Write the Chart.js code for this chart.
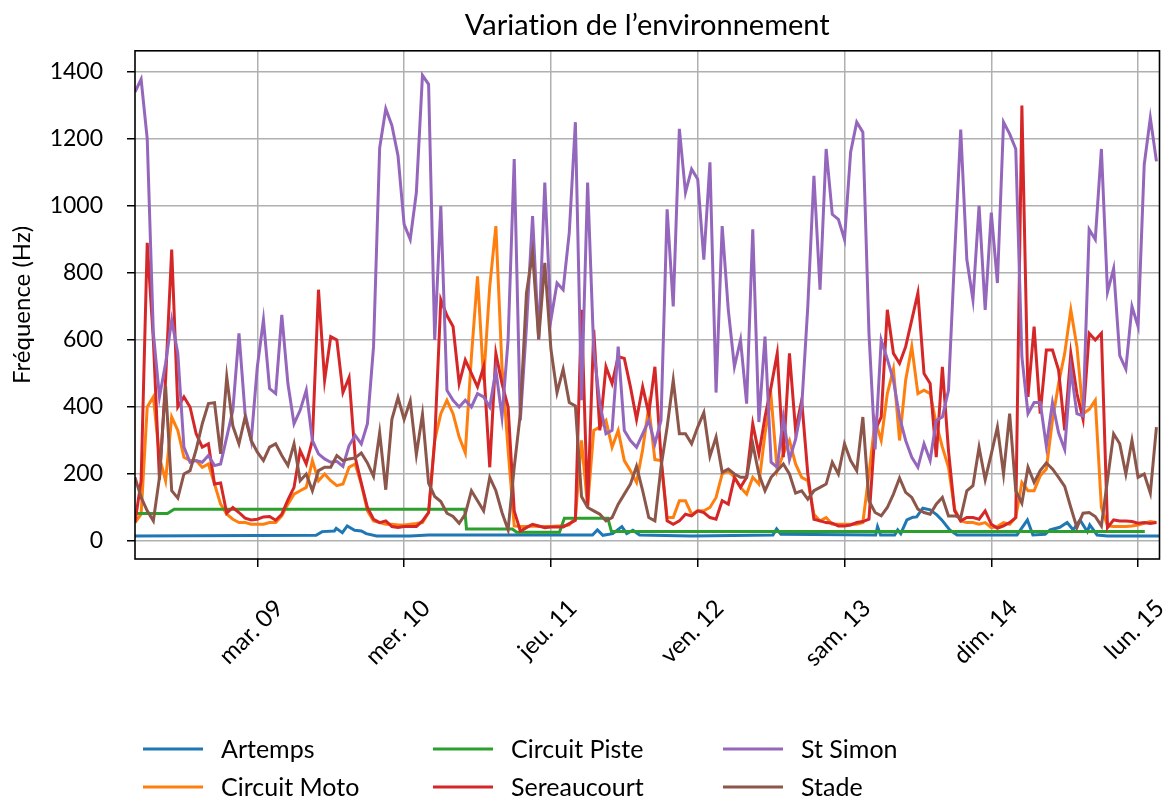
<!DOCTYPE html>
<html lang="fr">
<head>
  <meta charset="UTF-8">
  <title>Variation de l'environnement</title>
  <style>
    html, body { margin: 0; padding: 0; background: #fff; }
    #wrap { width: 1168px; height: 801px; }
  </style>
</head>
<body>
  <div id="wrap"><canvas id="chart" width="1168" height="801"></canvas></div>

  <script src="https://cdn.jsdelivr.net/npm/chart.js"></script>
  <script>
    // x = hours since lun. 08 00:00
    const hours = [
      4, 5, 6, 7, 8, 9, 10, 11, 12, 13, 14, 15, 16, 17, 18, 19, 20, 21, 22, 23,
      24, 25, 26, 27, 28, 29, 30, 31, 32, 33, 34, 35, 36, 37, 38, 39, 40, 41, 42, 43,
      44, 45, 46, 47, 48, 49, 50, 51, 52, 53, 54, 55, 56, 57, 58, 59, 60, 61, 62, 63,
      64, 65, 66, 67, 68, 69, 70, 71, 72, 73, 74, 75, 76, 77, 78, 79, 80, 81, 82, 83,
      84, 85, 86, 87, 88, 89, 90, 91, 92, 93, 94, 95, 96, 97, 98, 99, 100, 101, 102, 103,
      104, 105, 106, 107, 108, 109, 110, 111, 112, 113, 114, 115, 116, 117, 118, 119, 120, 121, 122, 123,
      124, 125, 126, 127, 128, 129, 130, 131, 132, 133, 134, 135, 136, 137, 138, 139, 140, 141, 142, 143,
      144, 145, 146, 147, 148, 149, 150, 151, 152, 153, 154, 155, 156, 157, 158, 159, 160, 161, 162, 163,
      164, 165, 166, 167, 168, 169, 170, 171
    ];

    const artempsHours = [4, 33.6, 34.6, 36.6, 36.9, 37.9, 38.7, 39.9, 41, 41.8, 43.5, 49, 52, 78.8, 79.6, 80.5, 82.1, 83.6, 84.4, 85.4, 86.5, 95, 108.3, 108.9, 109.6, 125.1, 125.4, 125.9, 128.2, 128.7, 129.2, 130.2, 131.2, 131.8, 132.8, 134, 135.1, 135.9, 137.2, 138.4, 148.2, 149.9, 150.8, 152.8, 153.6, 155.2, 156.4, 157.4, 158.5, 159.7, 160.1, 161.3, 163, 171.5];
    const artempsValues = [15, 17, 28, 30, 38, 25, 45, 32, 30, 22, 15, 15, 18, 18, 33, 17, 22, 43, 22, 32, 18, 15, 18, 36, 20, 18, 43, 18, 18, 33, 22, 63, 71, 72, 98, 93, 78, 63, 33, 18, 18, 63, 18, 20, 33, 41, 55, 33, 63, 28, 48, 18, 15, 15];

    const pisteHours = [4, 9.3, 10.4, 57.9, 58.2, 65.7, 66.4, 73.4, 74.2, 81.3, 81.9, 169.1];
    const pisteValues = [82, 82, 95, 95, 36, 36, 26, 26, 68, 68, 28, 28];

    const motoValues = [
      55, 80, 400, 430, 250, 180, 370, 330, 250, 240, 240, 220, 230, 170, 110, 80, 65, 55, 55, 50,
      50, 50, 55, 55, 75, 110, 140, 150, 160, 240, 180, 200, 180, 165, 170, 220, 230, 170, 90, 60,
      55, 50, 50, 48, 48, 50, 52, 55, 85, 300, 380, 420, 380, 310, 263, 550, 790, 480, 760, 940,
      520, 273, 45, 43, 43, 45, 43, 43, 43, 45, 45, 48, 70, 300, 103, 330, 340, 360, 280, 330,
      240, 210, 175, 273, 400, 243, 240, 70, 70, 120, 120, 80, 90, 90, 100, 130, 200, 210, 190, 160,
      140, 190, 170, 320, 430, 210, 260, 300, 230, 190, 180, 80, 60, 70, 50, 50, 50, 50, 50, 55,
      200, 360, 300, 440, 513, 300, 480, 580, 440, 450, 440, 350, 280, 220, 95, 60, 55, 55, 50, 55,
      40, 43, 55, 50, 70, 175, 150, 150, 195, 215, 360, 470, 560, 690, 580, 380, 393, 420, 100, 45,
      43, 43, 43, 45, 48, 53, 58, 55
    ];

    const sereaucourtValues = [
      55, 180, 890, 600, 183, 480, 870, 400, 430, 400, 320, 280, 290, 170, 173, 83, 100, 85, 68, 63,
      65, 72, 73, 62, 80, 123, 160, 270, 230, 300, 750, 480, 610, 600, 443, 488, 250, 173, 100, 65,
      55, 60, 43, 40, 43, 43, 43, 60, 85, 300, 720, 673, 640, 470, 540, 500, 460, 520, 220, 560,
      470, 400, 90, 30, 40, 50, 45, 40, 42, 42, 42, 52, 62, 690, 100, 630, 330, 520, 470, 550,
      545, 460, 363, 460, 380, 520, 250, 60, 50, 60, 80, 75, 90, 85, 70, 65, 120, 110, 190, 160,
      190, 350, 260, 370, 460, 560, 250, 560, 330, 420, 200, 65, 60, 55, 53, 45, 45, 48, 55, 58,
      65, 330, 370, 690, 560, 530, 580, 660, 740, 500, 470, 250, 520, 270, 90, 60, 70, 70, 65, 90,
      50, 38, 45, 55, 70, 1300, 430, 640, 380, 570, 570, 510, 330, 560, 440, 363, 620, 600, 620, 40,
      63, 60, 60, 58, 53, 55, 52, 55
    ];

    const stSimonValues = [
      1340, 1378, 1200, 620, 430, 530, 660, 560, 280, 235, 240, 235, 255, 225, 230, 310, 390, 620, 380, 300,
      520, 660, 455, 440, 675, 470, 350, 390, 450, 300, 260, 245, 235, 238, 223, 285, 315, 290, 350, 580,
      1173, 1290, 1240, 1150, 945, 900, 1040, 1390, 1363, 600, 1000, 450, 420, 400, 420, 400, 440, 430, 400, 510,
      370, 600, 1140, 360, 640, 970, 600, 1070, 660, 770, 750, 920, 1250, 420, 1070, 570, 410, 320, 330, 580,
      330, 300, 280, 320, 360, 290, 360, 990, 700, 1230, 1040, 1110, 1080, 840, 1130, 443, 940, 690, 520, 600,
      410, 930, 355, 610, 235, 220, 370, 243, 303, 400, 700, 1090, 750, 1170, 975, 960, 900, 1160, 1250, 1220,
      620, 273, 600, 543, 480, 370, 300, 250, 220, 290, 240, 360, 370, 450, 850, 1228, 840, 720, 1000, 690,
      980, 770, 1250, 1215, 1170, 550, 380, 413, 413, 283, 413, 323, 273, 513, 380, 373, 930, 900, 1170, 743,
      813, 553, 513, 700, 640, 1123, 1263, 1133
    ];

    const stadeValues = [
      190, 130, 90, 60, 190, 463, 150, 128, 200, 210, 273, 350, 410, 413, 260, 490, 343, 290, 370, 300,
      265, 240, 280, 290, 255, 225, 290, 180, 200, 150, 210, 220, 220, 255, 240, 245, 248, 263, 233, 193,
      323, 153, 363, 428, 363, 418, 258, 378, 173, 133, 118, 83, 73, 53, 80, 150, 120, 90, 190, 150,
      85, 33, 220, 380, 740, 860, 603, 830, 573, 443, 513, 413, 403, 133, 100, 90, 80, 60, 70, 110,
      140, 170, 223, 150, 70, 60, 220, 340, 480, 320, 320, 290, 340, 383, 253, 310, 205, 215, 200, 190,
      190, 290, 200, 150, 190, 210, 230, 200, 143, 150, 125, 150, 160, 170, 235, 200, 290, 240, 210, 370,
      120, 85, 75, 100, 140, 188, 145, 130, 95, 85, 80, 110, 130, 75, 75, 70, 150, 165, 280, 183,
      260, 340, 200, 380, 150, 113, 220, 175, 210, 233, 215, 190, 163, 100, 40, 83, 85, 73, 45, 183,
      320, 290, 200, 300, 190, 200, 143, 340
    ];

    const dayTicks = [24, 48, 72, 96, 120, 144, 168];
    const dayLabels = ['mar. 09', 'mer. 10', 'jeu. 11', 'ven. 12', 'sam. 13', 'dim. 14', 'lun. 15'];
    const yTicks = [0, 200, 400, 600, 800, 1000, 1200, 1400];

    const FONT = 'Lato, "DejaVu Sans", sans-serif';

    function toPoints(xs, ys) {
      return xs.map((x, i) => ({ x: x, y: ys[i] }));
    }

    function line(label, color, data, order) {
      return {
        label: label,
        data: data,
        borderColor: color,
        backgroundColor: color,
        borderWidth: 3,
        pointRadius: 0,
        tension: 0,
        order: order
      };
    }

    // no "ti" ligature from Lato
    const plainText = {
      id: 'plainText',
      beforeDraw(chart) {
        chart.ctx.textRendering = 'optimizeSpeed';
      }
    };

    // matplotlib style legend: 3 columns, filled column by column
    const gridLegend = {
      id: 'gridLegend',
      afterDraw(chart) {
        const ctx = chart.ctx;
        ctx.save();
        ctx.font = '25px ' + FONT;
        ctx.textBaseline = 'middle';
        chart.data.datasets.forEach((ds, i) => {
          const x = 143 + Math.floor(i / 2) * 290;
          const y = 749 + (i % 2) * 38;
          ctx.strokeStyle = ds.borderColor;
          ctx.lineWidth = 3;
          ctx.beginPath();
          ctx.moveTo(x, y);
          ctx.lineTo(x + 60, y);
          ctx.stroke();
          ctx.fillStyle = '#000';
          ctx.fillText(ds.label, x + 78, y + 1);
        });
        ctx.restore();
      }
    };

    const frame = {
      id: 'frame',
      afterDatasetsDraw(chart) {
        const a = chart.chartArea;
        const ctx = chart.ctx;
        ctx.save();
        ctx.strokeStyle = '#000';
        ctx.lineWidth = 1.6;
        ctx.strokeRect(a.left, a.top, a.right - a.left, a.bottom - a.top);
        ctx.restore();
      }
    };

    const gridOpts = { color: '#b0b0b0', lineWidth: 1.5, tickColor: '#000', tickLength: 8, tickWidth: 1.5 };

    new Chart(document.getElementById('chart').getContext('2d'), {
      type: 'line',
      data: {
        datasets: [
          line('Artemps', '#1f77b4', toPoints(artempsHours, artempsValues), 5),
          line('Circuit Moto', '#ff7f0e', toPoints(hours, motoValues), 4),
          line('Circuit Piste', '#2ca02c', toPoints(pisteHours, pisteValues), 3),
          line('Sereaucourt', '#d62728', toPoints(hours, sereaucourtValues), 2),
          line('St Simon', '#9467bd', toPoints(hours, stSimonValues), 1),
          line('Stade', '#8c564b', toPoints(hours, stadeValues), 0)
        ]
      },
      options: {
        responsive: false,
        devicePixelRatio: 1,
        animation: false,
        layout: { padding: { left: 0, right: 8.5, top: 0, bottom: 0 } },
        plugins: {
          legend: { display: false },
          tooltip: { enabled: false },
          title: {
            display: true,
            text: 'Variation de l’environnement',
            fullSize: false,
            color: '#000',
            font: { family: FONT, size: 29, weight: 'normal' },
            padding: { top: 8, bottom: 8 }
          }
        },
        scales: {
          x: {
            type: 'linear',
            min: 4,
            max: 171.5,
            afterBuildTicks: s => { s.ticks = dayTicks.map(v => ({ value: v })); },
            afterFit: s => { s.height = 242; s.paddingLeft = 0; s.paddingRight = 0; },
            grid: gridOpts,
            border: { display: false },
            ticks: {
              autoSkip: false,
              minRotation: 45,
              maxRotation: 45,
              labelOffset: 22,
              padding: 27,
              color: '#000',
              font: { family: FONT, size: 24 },
              callback: (v, i) => dayLabels[i]
            }
          },
          y: {
            type: 'linear',
            min: -53.7,
            max: 1463,
            afterBuildTicks: s => { s.ticks = yTicks.map(v => ({ value: v })); },
            afterFit: s => { s.width = 135; },
            grid: gridOpts,
            border: { display: false },
            title: {
              display: true,
              text: 'Fréquence (Hz)',
              color: '#000',
              font: { family: FONT, size: 24 },
              padding: { top: 8, bottom: 0 }
            },
            ticks: {
              padding: 24,
              color: '#000',
              font: { family: FONT, size: 23 },
              callback: v => String(v)
            }
          }
        }
      },
      plugins: [plainText, gridLegend, frame]
    });
  </script>
</body>
</html>
